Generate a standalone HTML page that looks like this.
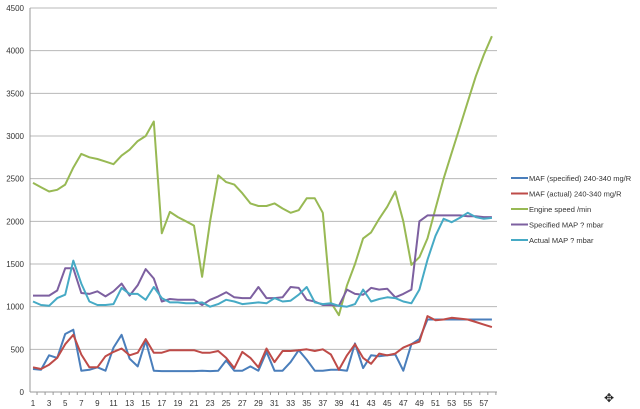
<!DOCTYPE html>
<html><head><meta charset="utf-8"><style>
body{margin:0;background:#fff;}
svg{display:block;font-family:"Liberation Sans",sans-serif;}
</style></head><body>
<svg id="c" width="640" height="409" viewBox="0 0 640 409"></svg>
<script>
const svg=document.getElementById('c');
const X0=33,DX=8.05,Y0=392,SC=384/4500;
let h='';
for(let v=500;v<=4500;v+=500){const y=Y0-v*SC;h+=`<line x1="30" x2="497" y1="${y}" y2="${y}" stroke="#b8b8b8" stroke-width="1"/>`;}
h+=`<line x1="30" x2="30" y1="8" y2="392" stroke="#999"/><line x1="30" x2="497" y1="392" y2="392" stroke="#999"/>`;
for(let v=0;v<=4500;v+=500){const y=Y0-v*SC;h+=`<text x="24" y="${y+3}" font-size="8" text-anchor="end" fill="#333">${v}</text>`;}
for(let i=1;i<=58;i++){const x=X0+(i-1)*DX;h+=`<line x1="${x+DX/2}" x2="${x+DX/2}" y1="392" y2="395" stroke="#999"/>`;if(i%2)h+=`<text x="${x}" y="406" font-size="8" text-anchor="middle" fill="#333">${i}</text>`;}
const D={
g:[2450,2400,2350,2370,2430,2630,2790,2750,2730,2700,2670,2770,2840,2940,3000,3170,1860,2110,2050,2000,1950,1350,2000,2540,2460,2430,2330,2210,2180,2180,2210,2150,2100,2130,2270,2270,2100,1050,900,1250,1500,1800,1870,2030,2170,2350,2000,1490,1580,1800,2150,2500,2800,3100,3400,3700,3950,4170],
p:[1130,1130,1130,1190,1450,1450,1300,1160,1150,1180,1120,1180,1270,1130,1250,1440,1330,1060,1090,1080,1080,1080,1020,1080,1120,1170,1110,1100,1100,1230,1100,1100,1110,1230,1220,1080,1060,1020,1020,1010,1200,1150,1140,1220,1200,1210,1110,1150,1200,2000,2070,2070,2070,2070,2070,2060,2060,2050].slice(0,58),
c:[1060,1020,1010,1100,1140,1540,1270,1060,1020,1020,1030,1220,1150,1150,1080,1230,1100,1050,1050,1040,1040,1050,1000,1030,1080,1060,1030,1040,1050,1040,1100,1060,1070,1140,1230,1050,1030,1040,1010,1000,1030,1200,1060,1090,1110,1100,1060,1040,1200,1550,1830,2030,1990,2040,2100,2050,2030,2040],
b:[270,260,430,400,680,730,250,260,290,250,520,670,390,300,600,250,245,245,245,245,245,250,245,250,370,250,250,300,250,470,250,250,350,490,380,250,250,260,260,250,570,280,430,420,430,440,250,560,620,850,850,850,850,850,850,850,850,850],
r:[290,270,320,400,560,670,440,290,290,420,470,510,430,460,620,460,460,490,490,490,490,460,460,480,400,280,470,400,290,510,350,480,480,490,500,480,500,440,260,430,560,400,330,450,430,450,520,560,590,890,840,850,870,860,850,820,790,760]};
D.p.splice(6,1);D.p.push(2050);
const col={b:'#4a7ebb',r:'#be4b48',g:'#98b954',p:'#7d60a0',c:'#46aac5'};
for(const k of ['g','p','c','b','r']){h+=`<polyline fill="none" stroke="${col[k]}" stroke-width="2" stroke-linejoin="round" points="${D[k].map((v,i)=>(X0+i*DX).toFixed(1)+','+(Y0-v*SC).toFixed(1)).join(' ')}"/>`;}
const L=[['b','MAF (specified) 240-340  mg/R'],['r','MAF (actual) 240-340  mg/R'],['g','Engine speed  /min'],['p','Specified MAP ?  mbar'],['c','Actual MAP ?  mbar']];
L.forEach((l,i)=>{const y=178+i*15.5;h+=`<line x1="511" x2="528" y1="${y}" y2="${y}" stroke="${col[l[0]]}" stroke-width="2"/><text x="529" y="${y+3}" font-size="7.5" fill="#333">${l[1]}</text>`;});
h+=`<text x="604" y="402" font-size="12" fill="#222">✥</text>`;
svg.innerHTML=h;
</script>
</body></html>
